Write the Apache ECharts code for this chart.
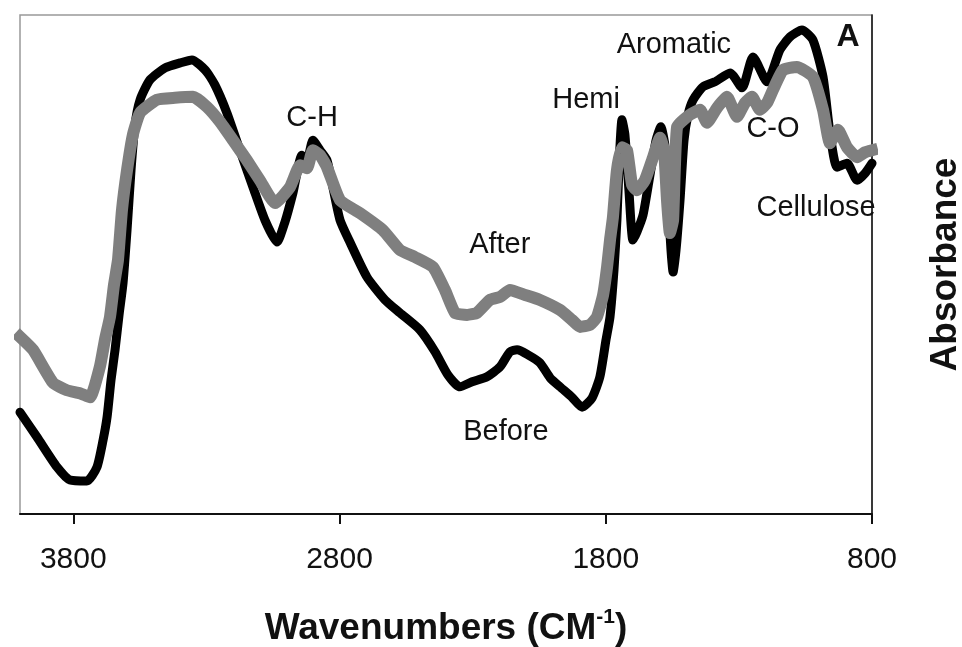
<!DOCTYPE html>
<html>
<head>
<meta charset="utf-8">
<script src="https://cdn.jsdelivr.net/npm/echarts@6.0.0/dist/echarts.min.js"></script>
<style>
html,body{margin:0;padding:0;background:#fff;}
#chart{width:962px;height:647px;}
</style>
</head>
<body>
<div id="chart"></div>
<script>
// Wavenumber (cm-1) and relative absorbance (a.u.)
const beforeWn = [4000,3936,3861,3812,3749,3711,3688,3673,3658,3643,3628,3613,3598,3583,3568,3549,3512,3455,3399,3354,3305,3268,3223,3174,3125,3080,3035,3005,2975,2941,2922,2900,2873,2847,2825,2798,2761,2697,2629,2573,2498,2441,2393,2348,2302,2246,2197,2160,2133,2092,2047,2009,1972,1927,1889,1852,1822,1799,1784,1769,1758,1750,1739,1728,1713,1698,1683,1660,1634,1611,1593,1578,1566,1555,1547,1536,1521,1506,1491,1472,1435,1390,1333,1288,1247,1194,1146,1108,1063,1022,984,958,931,894,856,826,800];
const beforeAbs = [20.4,15.4,9.4,6.8,6.6,9.4,14.8,19.4,26.9,32.9,39.9,46.3,56.9,68.9,78.0,83.0,87.0,89.4,90.4,91.0,89.0,86.0,80.4,72.9,65.5,58.9,54.5,58.5,64.3,71.9,70.9,74.9,72.9,70.9,65.5,58.9,54.5,47.5,42.9,40.3,36.9,32.5,27.9,25.5,26.5,27.5,29.5,32.5,32.9,31.9,30.3,27.3,25.5,23.4,21.4,23.2,27.5,34.9,39.5,48.9,58.9,69.9,79.0,76.0,64.9,54.9,56.5,59.9,67.9,74.9,77.6,73.9,62.9,52.9,48.5,52.9,62.9,74.9,80.0,83.0,85.6,86.6,88.4,85.4,91.6,86.6,93.0,95.6,97.0,95.0,87.6,76.4,69.5,70.3,66.9,68.3,70.3];

const afterWn = [4000,3951,3876,3824,3775,3737,3700,3681,3662,3647,3632,3617,3598,3576,3549,3486,3418,3350,3298,3249,3200,3148,3099,3042,2986,2948,2922,2900,2873,2847,2798,2723,2637,2573,2517,2449,2404,2366,2321,2284,2235,2197,2160,2103,2047,1972,1927,1897,1859,1833,1810,1795,1784,1773,1758,1739,1720,1701,1683,1653,1626,1596,1581,1570,1559,1547,1532,1484,1446,1420,1382,1345,1307,1277,1251,1221,1194,1172,1134,1082,1022,984,958,928,894,856,826,800];
const afterAbs = [35.5,32.9,26.3,24.8,24.2,23.4,29.5,34.9,39.5,45.9,50.9,60.9,68.9,76.0,80.4,83.0,83.4,83.6,81.6,78.6,74.9,70.9,66.9,62.3,65.5,69.9,69.3,72.9,71.9,69.5,62.9,60.3,56.9,52.9,51.5,49.5,44.9,40.3,39.9,40.3,42.9,43.5,44.9,43.9,42.9,40.9,38.9,37.5,37.9,39.5,43.9,49.5,54.9,59.5,68.9,73.5,72.9,65.9,64.9,66.9,70.9,75.4,72.9,62.9,56.3,58.9,77.6,80.0,81.0,78.4,81.4,83.6,79.6,82.4,83.6,81.0,82.4,85.0,89.0,89.6,87.6,81.0,74.3,77.0,73.5,71.5,72.5,72.9];

const xTicks = [800, 1800, 2800, 3800];

// annotations: [wavenumber, absorbance, text, bold]
const notes = [
  [2903, 79.4, 'C-H', false],
  [1874, 83.0, 'Hemi', false],
  [1544, 94.0, 'Aromatic', false],
  [1172, 77.2, 'C-O', false],
  [1010, 61.3, 'Cellulose', false],
  [2198, 53.9, 'After', false],
  [2175, 16.4, 'Before', false],
  [890, 95.6, 'A', true]
];

const pair = (xs, ys) => xs.map((x, i) => [x, ys[i]]);
const FONT = '"Liberation Sans", Arial, Helvetica, sans-serif';

const chart = echarts.init(document.getElementById('chart'), null, {renderer: 'canvas'});
chart.setOption({
  animation: false,
  backgroundColor: '#fff',
  grid: {left: 20, right: 90, top: 15, bottom: 133, show: true, borderColor: '#999', borderWidth: 1.5,
         containLabel: false, outerBoundsMode: 'none'},
  xAxis: {
    type: 'value', min: 800, max: 4000, inverse: true,
    axisLine: {show: true, lineStyle: {color: '#111', width: 2}},
    axisTick: {show: true, customValues: xTicks, length: 10, lineStyle: {color: '#111', width: 2}},
    axisLabel: {customValues: xTicks, fontSize: 30, color: '#111', fontFamily: FONT, margin: 31,
                formatter: v => String(v)},
    splitLine: {show: false},
    name: '{a|Wavenumbers (CM}{s|-1}{a|)}',
    nameLocation: 'middle', nameGap: 93,
    nameTextStyle: {
      rich: {
        a: {fontSize: 37, fontWeight: 'bold', fontFamily: FONT, color: '#111', lineHeight: 44},
        s: {fontSize: 21, fontWeight: 'bold', fontFamily: FONT, color: '#111', lineHeight: 44, verticalAlign: 'top', padding: [0, 0, 14, 0]}
      }
    }
  },
  yAxis: {
    type: 'value', min: 0, max: 100, position: 'right',
    axisLine: {show: true, lineStyle: {color: '#111', width: 1.5}},
    axisTick: {show: false}, axisLabel: {show: false}, splitLine: {show: false},
    name: 'Absorbance', nameLocation: 'middle', nameRotate: 90, nameGap: 55,
    nameTextStyle: {fontSize: 37, fontWeight: 'bold', fontFamily: FONT, color: '#111'}
  },
  series: [
    {name: 'Before', type: 'line', data: pair(beforeWn, beforeAbs), showSymbol: false, symbol: 'none',
     smooth: 0.2,
     lineStyle: {color: '#000', width: 9, cap: 'round', join: 'round'}, z: 2},
    {name: 'After', type: 'line', data: pair(afterWn, afterAbs), showSymbol: false, symbol: 'none',
     smooth: 0.15,
     lineStyle: {color: '#7f7f7f', width: 12, cap: 'square', join: 'miter'}, z: 3}
  ]
});

const g = notes.map(n => {
  const p = chart.convertToPixel({gridIndex: 0}, [n[0], n[1]]);
  return {
    type: 'text', x: p[0], y: p[1], z: 10,
    style: {text: n[2], fontSize: n[3] ? 32 : 29, fontWeight: n[3] ? 'bold' : 'normal',
            fontFamily: FONT, fill: '#111', align: 'center', verticalAlign: 'middle'}
  };
});
chart.setOption({graphic: g});
</script>
</body>
</html>
